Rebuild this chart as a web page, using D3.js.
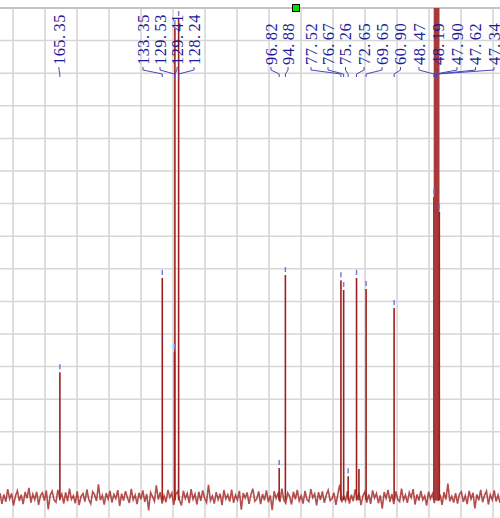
<!DOCTYPE html>
<html>
<head>
<meta charset="utf-8">
<script src="https://cdn.jsdelivr.net/npm/d3@7"></script>
<style>
body{margin:0;background:#fff;}
svg{display:block;}
</style>
</head>
<body>
<div id="chart"></div>
<script>
// peak list (ppm) and heights
var peakPpm =    [165.35,133.35,129.53,129.41,128.24,96.82,94.88,77.52,76.67,75.26,72.65,69.65,60.90,48.47,48.19,47.90,47.62,47.34,47.06,46.77];
var peakHeight = [38.3,  67.2,  44.5,  143.8, 146.6, 8.9,  68.1, 66.5, 63.5, 6.4,  67.2, 63.8, 58.0, 92.0, 400,  600,  700,  600,  400,  87.4];
// small peaks with no label
var minorPpm = [71.9];
var minorHeight = [8.6];
// labels shown at the top
var labelText = ["165.35","133.35","129.53","129.41","128.24","96.82","94.88","77.52","76.67","75.26","72.65","69.65","60.90","48.47","48.19","47.90","47.62","47.34"];
// baseline noise, from left to right
var noise = [
 1.2,-2.1,0.8,-1.5,2.4,-0.6,1.1,-2.6,0.3,1.9,-1.2,0.7,-2.2,1.5,-0.4,2.8,-1.7,0.9,-0.8,1.6,
 -2.4,0.5,1.3,-1.1,2.0,-3.8,0.6,1.8,-0.9,-1.6,2.2,-0.3,1.0,-2.0,1.4,-1.3,2.6,-0.7,0.4,-1.9,
 1.7,-2.5,0.2,1.1,-1.4,2.3,-0.8,-2.1,1.6,0.7,-1.2,3.9,-1.0,0.5,-2.3,1.2,-0.6,1.9,-1.7,0.8,
 -0.5,2.1,-2.7,1.0,-1.1,1.8,-0.2,-1.8,2.5,-0.9,0.6,-2.2,1.3,-0.7,2.0,-1.5,0.9,-4.1,1.4,0.1,
 -1.3,3.6,-0.8,1.5,-2.0,0.4,-1.6,2.2,-0.1,1.2,-2.4,0.8,1.7,-1.0,-2.6,1.9,-0.5,1.1,-1.9,2.4,
 -0.7,0.9,-2.3,1.6,-1.2,2.0,-0.4,-1.7,3.7,-1.1,0.3,-2.0,1.5,-0.8,1.0,-2.5,2.1,-0.6,0.7,-1.4,
 2.3,-1.8,0.6,-0.9,1.9,-3.9,1.2,-0.3,1.4,-2.1,0.8,2.5,-1.3,-0.6,1.7,-2.2,0.9,-1.0,2.0,-1.6,
 0.5,-4.0,1.8,-0.4,1.1,-1.5,2.6,-0.9,-1.9,1.3,0.2,-2.3,1.6,-0.7,2.2,-1.2,0.4,-2.0,1.9,-0.8,
 -1.4,2.4,-0.2,1.0,-2.6,1.5,-0.9,1.7,-1.8,0.6,2.1,-1.1,-0.5,1.3,-2.4,0.9,3.8,-1.6,0.3,-1.2,
 1.8,-2.0,0.7,-1.3,2.3,-0.6,1.2,-2.5,0.4,1.6,-1.7,0.8,-2.1,2.0,-0.3,1.1,-1.9,0.5,-3.6,1.5,
 -0.4,2.2,-1.5,0.9,-2.2,1.7,-0.7,-1.4,2.6,-1.0,0.6,-1.8,1.4,-0.2,2.4,-2.3,0.8,-1.1,1.9,-0.9,
 0.3,-2.6,1.6,-0.5,1.0,-1.9,2.1,-1.2,0.7,-2.4,1.5,-0.8,4.1,-1.3,0.2,-1.7,1.2,-2.0,0.9,1.6,
 -1.5,0.4,-2.2,1.9,-0.6,1.3,-3.5,0.8,-1.0,2.2,-1.6,0.5,1.8,-2.3,0.7,-0.9,2.0,-1.4,0.6,-1.8
];

// layout: where each label column sits (px)
var labelX = [59,143,160,177,194,271,288,311,328,345.5,364,382,400.5,419,438,457,475.5,494];

var W = 500, H = 518;
var ppmLeft = 184.0625, ppmRight = 27.8125;

var svg = d3.select("#chart").append("svg").attr("width", W).attr("height", H);

var x = d3.scaleLinear().domain([ppmLeft, ppmRight]).range([0, W]);
var y = d3.scaleLinear().domain([0, 150]).range([497, 8]);

svg.append("defs").append("clipPath").attr("id","plot")
	.append("rect").attr("x",0).attr("y",8).attr("width",W).attr("height",H-8);

// grid
var grid = svg.append("g");
grid.selectAll(".vg").data(d3.range(180, 29, -10)).enter().append("line")
	.attr("x1", function(d){ return x(d); }).attr("x2", function(d){ return x(d); })
	.attr("y1", 8).attr("y2", H)
	.style("stroke", "#d6d6d6").style("stroke-width", 1.6);
grid.selectAll(".hg").data(d3.range(0, 151, 10)).enter().append("line")
	.attr("x1", 0).attr("x2", W)
	.attr("y1", function(d){ return y(d); }).attr("y2", function(d){ return y(d); })
	.style("stroke", "#d6d6d6").style("stroke-width", 1.5);
svg.append("line").attr("x1",0).attr("x2",W).attr("y1",8).attr("y2",8)
	.style("stroke","#c4c4c4").style("stroke-width",2);

var plot = svg.append("g").attr("clip-path","url(#plot)");

// noise
var noiseStep = (ppmLeft - ppmRight) / (noise.length - 1);
var line = d3.line()
	.x(function(d, i){ return x(ppmLeft - i * noiseStep); })
	.y(function(d){ return y(d); });
plot.append("path").datum(noise).attr("d", line)
	.style("fill","none").style("stroke","#a32626").style("stroke-width",1.6).style("opacity",0.82);

// peaks
var peaks = peakPpm.map(function(p, i){ return {ppm:p, h:peakHeight[i]}; });
var minor = minorPpm.map(function(p, i){ return {ppm:p, h:minorHeight[i]}; });
plot.selectAll(".pk").data(peaks.concat(minor)).enter().append("line")
	.attr("x1", function(d){ return x(d.ppm); }).attr("x2", function(d){ return x(d.ppm); })
	.attr("y1", y(-1)).attr("y2", function(d){ return y(d.h); })
	.style("stroke", function(d){ return d.h > 150 ? "#a83a3a" : "#9e1f1f"; })
	.style("stroke-width", function(d){ return d.h > 150 ? 2.2 : 1.6; });

// peak top marks
plot.selectAll(".mk").data(peaks.filter(function(d){ return d.h < 150; })).enter().append("line")
	.attr("x1", function(d){ return x(d.ppm); }).attr("x2", function(d){ return x(d.ppm); })
	.attr("y1", function(d){ return y(d.h) - 8; }).attr("y2", function(d){ return y(d.h) - 3; })
	.style("stroke","#7a7ad6").style("stroke-width",1.5);

// labels with leaders
var labels = svg.append("g");
labelText.forEach(function(t, i){
	var lx = labelX[i], px = x(peakPpm[i]);
	labels.append("path")
		.attr("d", "M" + lx + ",67L" + lx + ",70L" + px + ",74L" + px + ",77")
		.style("fill","none").style("stroke","#4848b4").style("stroke-width",1);
	var parts = t.split(".");
	var tx = labels.append("text")
		.attr("transform", "translate(" + (lx + 5.6) + ",65) rotate(-90)")
		.style("font-family","'Liberation Serif', serif").style("font-size","16.5px")
		.style("letter-spacing","0.4px").style("fill","#1c1c96");
	tx.append("tspan").text(parts[0] + ".");
	tx.append("tspan").attr("dx", 3).text(parts[1]);
});

// green handle
svg.append("rect").attr("x",292.5).attr("y",4.5).attr("width",7).attr("height",7)
	.style("fill","#00dd00").style("stroke","#000").style("stroke-width",1);
</script>
</body>
</html>
